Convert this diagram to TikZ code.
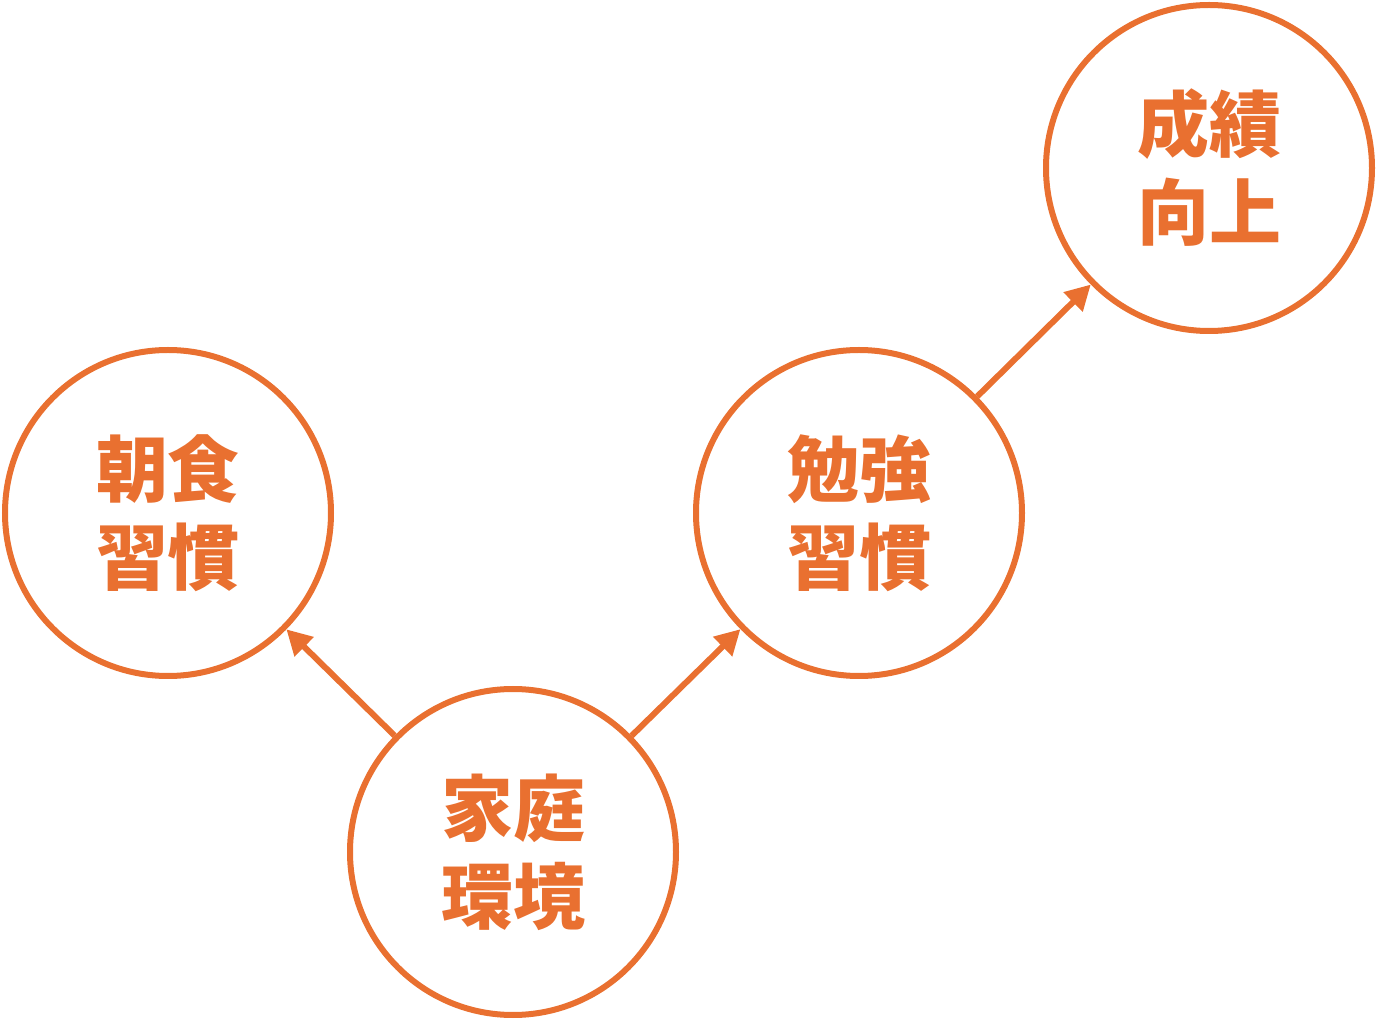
\documentclass[tikz,border=0pt]{standalone}
\usepackage{fontspec}
\newfontfamily\cjk{Noto Sans CJK JP}
\usetikzlibrary{arrows.meta}
\definecolor{kaki}{RGB}{233,112,48}
\tikzset{ball/.style={circle,draw=kaki,line width=3pt,minimum size=163pt,inner sep=0pt,
    text=kaki,font=\cjk\bfseries\fontsize{36pt}{44pt}\selectfont,align=center},
  push/.style={draw=kaki,line width=3pt,-{Triangle[length=12.5pt,width=13pt]}}}

\begin{document}
\begin{tikzpicture}[x=0.5pt,y=-0.5pt]
            \useasboundingbox (0,0) rectangle (1378,1021);

            % circles
            \node[ball] (choshoku) at (168,513) {朝食\\習慣};
            \node[ball] (katei) at (513,852) {家庭\\環境};
            \node[ball] (benkyo) at (859,513) {勉強\\習慣};
            \node[ball] (seiseki) at (1209,168) {成績\\向上};

            % arrows
            \draw[push] (katei) -- (choshoku);
            \draw[push] (katei) -- (benkyo);
            \draw[push] (benkyo) -- (seiseki);
\end{tikzpicture}
\end{document}
